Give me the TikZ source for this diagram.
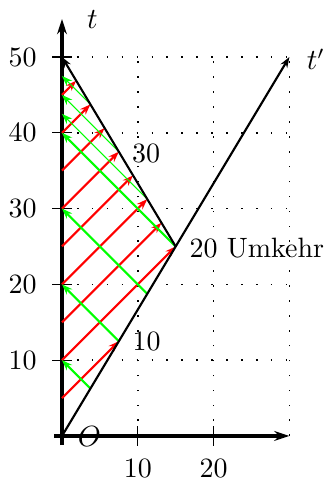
\documentclass[tikz,border=0pt]{standalone}
\usepackage{fontspec}
\usepackage{amsmath,amssymb}
\usepackage{tikz}
\usetikzlibrary{arrows.meta}

\tikzset{
  gridline/.style={dash pattern=on 0.6pt off 5pt, line width=0.6pt},
  axis/.style={-{Stealth[length=2mm,width=1.3mm]},very thick},
  sig/.style={-{Stealth[length=1.4mm,width=1mm]}},
  redsig/.style={sig,red,thick},
  greensig/.style={sig,green,thick},
}

\begin{document}
\begin{tikzpicture}[x=1mm,y=1mm,font=\fontsize{10.5}{12.6}\selectfont]
  \useasboundingbox (-8.18,-5.94) rectangle (34.83,57.52);
  % Gitter
  \foreach \y in {10,20,...,50} {
    \draw[gridline] (0,\y) -- (30,\y);
  }
  \foreach \x in {10,20,30} {
    \draw[gridline] (\x,0) -- (\x,50);
  }
  % Achsen
  \foreach \y in {10,20,...,50} {
    \draw (-1.3,\y) -- (1.3,\y);
    \node (ly\y) at (-5.2,\y) {\y};
  }
  \foreach \x in {10,20} {
    \draw (\x,-1.3) -- (\x,1.3);
    \node (lx\x) at (\x,-4.35) {\x};
  }
  \draw[axis] (0,-1.2) -- (0,55);
  \draw[axis] (-1,0) -- (30,0);
  \node (tlab) at (4.0,55.0) {$t$};
  \node (olab) at (3.6,-0.1) {$O$};
  % Signale von zu Hause
  \foreach \s in {5,10} {
    \draw[redsig] (0,\s) -- ({1.5*\s},{2.5*\s});
  }
  \foreach \s in {15,20,...,45} {
    \draw[redsig] (0,\s) -- ({0.375*(50-\s)},{\s+0.375*(50-\s)});
  }
  % Signale vom Reisenden
  \foreach \p in {5,10,15,20} {
    \draw[greensig] ({0.75*\p},{1.25*\p}) -- (0,{2*\p});
  }
  \foreach \x in {11.25,7.5,3.75} {
    \draw[sig,green] (\x,{50-\x/0.6}) -- (0,{50-\x*2/3});
  }
  % Weltlinie
  \coordinate (O) at (0,0);
  \coordinate (U) at (15,25);
  \coordinate (E) at (0,50);
  \coordinate (T) at (30,50);
  \draw[sig,thick] (O) -- (T);
  \draw[sig,thick] (U) -- (E);
  \node (tplab) at (33.5,49.7) {$t'$};
  \node (m10) at (11.15,12.4) {10};
  \node (m20) at (25.7,24.8) {20 Umkehr};
  \node (m30) at (11.1,37.3) {30};
\end{tikzpicture}
\end{document}
